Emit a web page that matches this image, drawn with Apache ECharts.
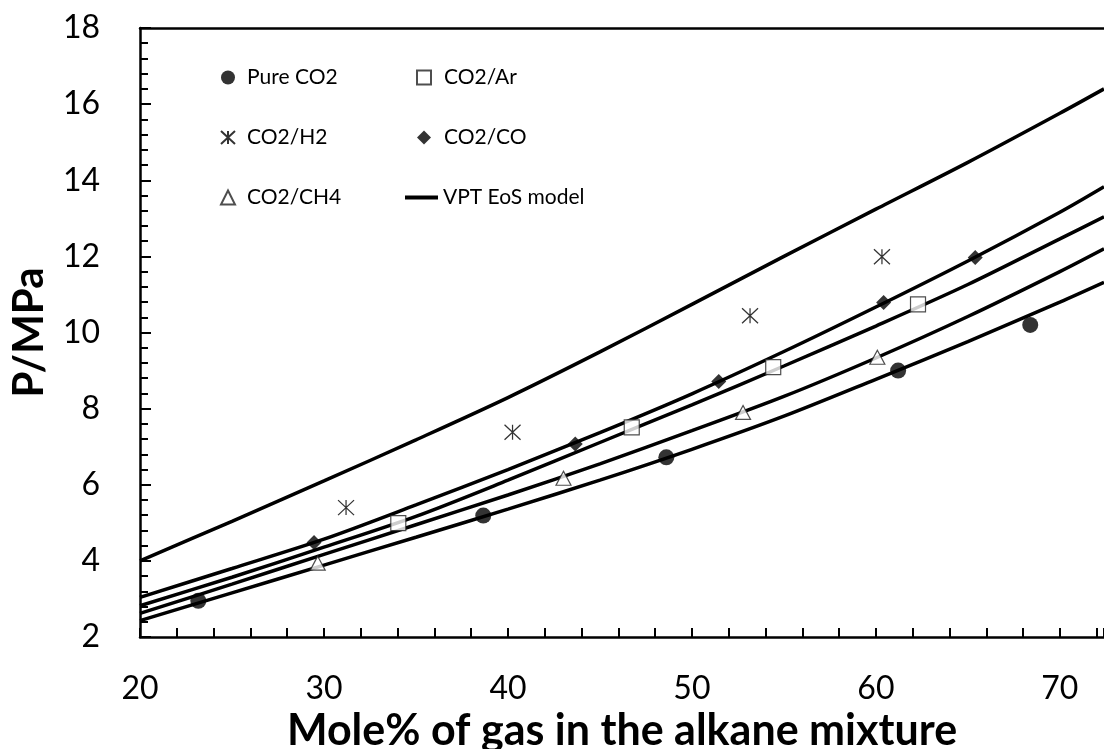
<!DOCTYPE html>
<html>
<head>
<meta charset="utf-8">
<script src="https://cdn.jsdelivr.net/npm/echarts@6/dist/echarts.min.js"></script>
<style>
  html, body { margin: 0; padding: 0; background: #fff; overflow: hidden; }
  #chart { width: 1104px; height: 749px; }
</style>
</head>
<body>
<div id="chart"></div>
<script>
// Measured bubble-point pressures (x: mole% gas, y: P/MPa)
const pureCO2 = [[23.17, 2.95], [38.66, 5.19], [48.61, 6.72], [61.21, 9.00], [68.39, 10.20]];
const co2Ar   = [[34.04, 4.99], [46.73, 7.51], [54.42, 9.09], [62.29, 10.74]];
const co2H2   = [[31.20, 5.40], [40.25, 7.38], [53.16, 10.44], [60.33, 11.99]];
const co2CO   = [[29.46, 4.48], [43.66, 7.07], [51.46, 8.71], [60.42, 10.79], [65.40, 11.97]];
const co2CH4  = [[29.66, 3.94], [43.02, 6.17], [52.78, 7.90], [60.08, 9.35]];

// VPT EoS model curves, sampled along the mole% axis
const modelX    = [20, 25, 30, 35, 40, 45, 50, 55, 60, 65, 70, 72.4];
const modelH2   = [4.00, 5.04, 6.10, 7.18, 8.29, 9.49, 10.74, 12.00, 13.24, 14.47, 15.76, 16.40];
const modelCO   = [3.04, 3.80, 4.57, 5.47, 6.40, 7.37, 8.39, 9.50, 10.67, 11.88, 13.16, 13.83];
const modelAr   = [2.82, 3.57, 4.36, 5.17, 6.12, 7.11, 8.10, 9.12, 10.17, 11.26, 12.46, 13.04];
const modelCH4  = [2.62, 3.39, 4.17, 4.95, 5.73, 6.55, 7.42, 8.32, 9.33, 10.42, 11.60, 12.20];
const modelPure = [2.43, 3.16, 3.89, 4.62, 5.36, 6.12, 6.93, 7.80, 8.77, 9.76, 10.80, 11.32];

// Axis ranges and labelled ticks
const xRange = [20, 72.4];
const yRange = [2, 18];
const xLabelStep = 10;

// Legend layout: two columns of three rows
const legendColA = ['Pure CO2', 'CO2/H2', 'CO2/CH4'];
const legendColB = ['CO2/Ar', 'CO2/CO'];
const legendModel = 'VPT EoS model';

const FONT = 'Lato';
const BLACK = '#000';

const chart = echarts.init(document.getElementById('chart'), null, { renderer: 'canvas' });

const curve = ys => modelX.map((x, i) => [x, ys[i]]);

const modelSeries = [modelH2, modelCO, modelAr, modelCH4, modelPure].map(ys => ({
  name: legendModel,
  type: 'line',
  data: curve(ys),
  symbol: 'none',
  smooth: 0.3,
  lineStyle: { color: BLACK, width: 3.5 },
  itemStyle: { color: BLACK },
  z: 2,
  silent: true
}));

const openMarker = { color: '#fff', borderColor: '#222', borderWidth: 1.2 };
const legendText = (padLeft) => ({ fontFamily: FONT, fontSize: 21, color: BLACK, padding: [0, 0, 0, padLeft] });
const ROW_TOP = 62;
const ROW_PITCH = 60;
const ICON = 14;

chart.setOption({
  animation: false,
  backgroundColor: '#fff',
  grid: { left: 140, right: 0, top: 28, bottom: 112, containLabel: false, outerBoundsMode: 'none' },
  legend: [
    {
      left: 215, top: ROW_TOP, orient: 'vertical',
      itemWidth: ICON, itemHeight: ICON, itemGap: ROW_PITCH - 21,
      selectedMode: false,
      data: legendColA,
      textStyle: legendText(7)
    },
    {
      left: 411, top: ROW_TOP, orient: 'vertical',
      itemWidth: ICON, itemHeight: ICON, itemGap: ROW_PITCH - 21,
      selectedMode: false,
      data: legendColB,
      textStyle: legendText(8)
    },
    {
      left: 400, top: ROW_TOP + 2 * ROW_PITCH, orient: 'vertical',
      itemWidth: 33, itemHeight: 4,
      selectedMode: false,
      data: [{ name: legendModel, icon: 'rect' }],
      textStyle: legendText(0)
    }
  ],
  xAxis: [
    {
      type: 'value', position: 'bottom',
      min: xRange[0], max: xRange[1], interval: 2,
      axisLine: { show: true, onZero: false, lineStyle: { color: BLACK, width: 2.5 } },
      axisTick: { show: true, inside: true, length: 9, lineStyle: { color: BLACK, width: 2 } },
      axisLabel: {
        margin: 36, fontFamily: FONT, fontSize: 32, color: BLACK,
        formatter: v => (Math.abs(v % xLabelStep) < 1e-6 ? String(v) : '')
      },
      splitLine: { show: false },
      name: 'Mole% of gas in the alkane mixture',
      nameLocation: 'middle', nameGap: 73,
      nameTextStyle: { fontFamily: FONT, fontWeight: 'bold', fontSize: 43, color: BLACK }
    },
    {
      type: 'value', position: 'top',
      min: xRange[0], max: xRange[1],
      axisLine: { show: true, onZero: false, lineStyle: { color: BLACK, width: 2.5 } },
      axisTick: { show: false },
      axisLabel: { show: false },
      splitLine: { show: false }
    }
  ],
  yAxis: {
    type: 'value',
    min: yRange[0], max: yRange[1], interval: 2,
    axisLine: { show: true, onZero: false, lineStyle: { color: BLACK, width: 2.5 } },
    axisTick: { show: true, inside: true, length: 11, lineStyle: { color: BLACK, width: 2 } },
    minorTick: { show: true, splitNumber: 5, length: 8, lineStyle: { color: BLACK, width: 2 } },
    axisLabel: { margin: 40, fontFamily: FONT, fontSize: 32, color: BLACK },
    splitLine: { show: false },
    minorSplitLine: { show: false },
    name: 'P/MPa',
    nameLocation: 'middle', nameGap: 90, nameRotate: 90,
    nameTextStyle: { fontFamily: FONT, fontWeight: 'bold', fontSize: 42, color: BLACK }
  },
  series: [
    ...modelSeries,
    {
      name: 'Pure CO2', type: 'scatter', data: pureCO2,
      symbol: 'circle', symbolSize: 16,
      itemStyle: { color: BLACK }, z: 3
    },
    {
      name: 'CO2/Ar', type: 'scatter', data: co2Ar,
      symbol: 'rect', symbolSize: 15,
      itemStyle: openMarker, z: 3
    },
    {
      name: 'CO2/H2', type: 'scatter', data: co2H2,
      symbol: 'path://M0,0L16,15M16,0L0,15M8,0L8,15', symbolSize: [16, 15],
      itemStyle: { color: '#fff', borderColor: BLACK, borderWidth: 1.2 }, z: 3
    },
    {
      name: 'CO2/CO', type: 'scatter', data: co2CO,
      symbol: 'diamond', symbolSize: 15,
      itemStyle: { color: BLACK }, z: 3
    },
    {
      name: 'CO2/CH4', type: 'scatter', data: co2CH4,
      symbol: 'triangle', symbolSize: [15, 14],
      itemStyle: openMarker, z: 3
    }
  ]
});
</script>
</body>
</html>
